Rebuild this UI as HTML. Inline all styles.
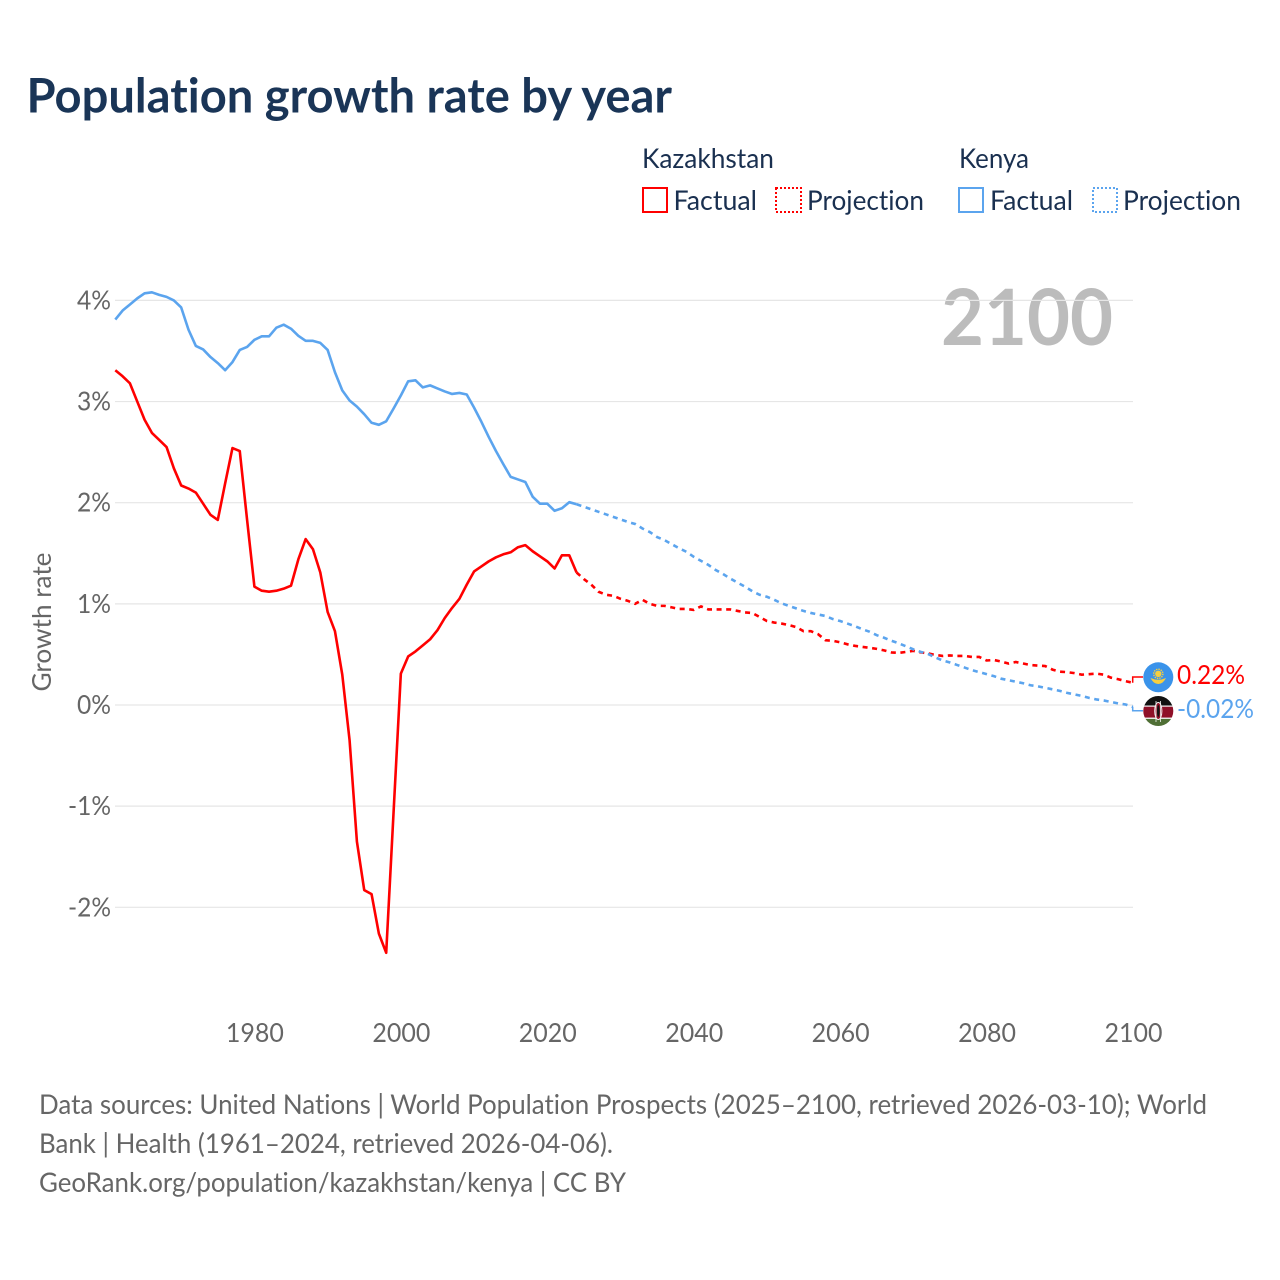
<!DOCTYPE html>
<html lang="en">
<head>
<meta charset="utf-8">
<title>Population growth rate by year</title>
<style>
html,body{margin:0;padding:0;background:#fff;width:1280px;height:1280px;overflow:hidden}
svg{display:block}
text{font-family:"Lato","Carlito","Liberation Sans",sans-serif;font-variant-ligatures:none}
</style>
</head>
<body>
<svg id="chart" xmlns="http://www.w3.org/2000/svg" width="1280" height="1280" viewBox="0 0 1280 1280">
<rect width="1280" height="1280" fill="#fff"/>
<text x="26.5" y="112.5" font-size="48" font-weight="700" fill="#1a3557" textLength="645.5" lengthAdjust="spacingAndGlyphs">Population growth rate by year</text>

<g font-size="27" fill="#1a3050">
<text x="642" y="168" textLength="132" lengthAdjust="spacingAndGlyphs">Kazakhstan</text>
<text x="959" y="168" textLength="70" lengthAdjust="spacingAndGlyphs">Kenya</text>
<rect x="643" y="188" width="24" height="24" fill="none" stroke="#ff0000" stroke-width="2"/>
<text x="673.5" y="210" textLength="83.5" lengthAdjust="spacingAndGlyphs">Factual</text>
<rect x="776" y="188" width="25" height="24" fill="none" stroke="#ff0000" stroke-width="2" stroke-dasharray="2 2"/>
<text x="807" y="210" textLength="117" lengthAdjust="spacingAndGlyphs">Projection</text>
<rect x="959" y="188" width="24" height="24" fill="none" stroke="#5ba4ee" stroke-width="2"/>
<text x="990" y="210" textLength="83" lengthAdjust="spacingAndGlyphs">Factual</text>
<rect x="1093" y="188" width="24" height="24" fill="none" stroke="#5ba4ee" stroke-width="2" stroke-dasharray="2 2"/>
<text x="1123" y="210" textLength="118" lengthAdjust="spacingAndGlyphs">Projection</text>
</g>

<text x="941" y="345" font-size="78" font-weight="700" fill="#bcbcbc" textLength="172" lengthAdjust="spacingAndGlyphs">2100</text>
<text transform="translate(51,622) rotate(-90)" text-anchor="middle" font-size="26" fill="#666" textLength="139" lengthAdjust="spacingAndGlyphs">Growth rate</text>

<g id="grid"></g>
<g id="yticks"></g>
<g id="xticks"></g>
<g id="series"></g>

<defs>
<clipPath id="kz-clip"><circle cx="1158.3" cy="677.3" r="15"/></clipPath>
<clipPath id="ke-clip"><circle cx="1158.3" cy="711" r="15"/></clipPath>
</defs>
<g clip-path="url(#kz-clip)">
<rect x="1143" y="662" width="31" height="31" fill="#3a93ea"/>
<circle cx="1158.3" cy="673.8" r="3.2" fill="#f6cf3f"/>
<circle cx="1158.3" cy="673.8" r="4.6" fill="none" stroke="#f6cf3f" stroke-width="1.4" stroke-dasharray="1.4 1"/>
<path d="M1150.5 678 Q1158.3 681.5 1166 678 Q1163 684 1158.3 684 Q1153.5 684 1150.5 678Z" fill="#f6cf3f"/>
</g>
<g clip-path="url(#ke-clip)">
<rect x="1143" y="696" width="31" height="9.5" fill="#111"/>
<rect x="1143" y="705.5" width="31" height="1.2" fill="#f4f4f4"/>
<rect x="1143" y="706.7" width="31" height="11" fill="#8f1028"/>
<rect x="1143" y="717.7" width="31" height="1.2" fill="#f4f4f4"/>
<rect x="1143" y="718.9" width="31" height="8" fill="#4f6f35"/>
<ellipse cx="1158.3" cy="711" rx="3.6" ry="8.5" fill="#8f1028" stroke="#f4f4f4" stroke-width="1"/>
<ellipse cx="1158.3" cy="711" rx="1.3" ry="6" fill="#111"/>
<line x1="1156" y1="701" x2="1156" y2="722" stroke="#f4f4f4" stroke-width="0.8"/>
<line x1="1160.6" y1="701" x2="1160.6" y2="722" stroke="#f4f4f4" stroke-width="0.8"/>
</g>

<g font-size="27" fill="#666">
<text x="39" y="1114" textLength="1168" lengthAdjust="spacingAndGlyphs">Data sources: United Nations | World Population Prospects (2025–2100, retrieved 2026-03-10); World</text>
<text x="39" y="1153" textLength="574" lengthAdjust="spacingAndGlyphs">Bank | Health (1961–2024, retrieved 2026-04-06).</text>
<text x="39" y="1192" textLength="587" lengthAdjust="spacingAndGlyphs">GeoRank.org/population/kazakhstan/kenya | CC BY</text>
</g>
</svg>

<script>
var xTickYears = [1980, 2000, 2020, 2040, 2060, 2080, 2100];
var yTickValues = [4, 3, 2, 1, 0, -1, -2];
var yTickLabels = ["4%", "3%", "2%", "1%", "0%", "-1%", "-2%"];
var factualStartYear = 1961;
var projectionStartYear = 2024;

var kazakhstanFactual = [
  3.31, 3.25, 3.18, 3.00, 2.82, 2.69, 2.62, 2.55, 2.34, 2.17,
  2.14, 2.10, 1.99, 1.88, 1.83, 2.19, 2.54, 2.51, 1.83, 1.17,
  1.13, 1.12, 1.13, 1.15, 1.18, 1.44, 1.64, 1.54, 1.31, 0.92,
  0.73, 0.30, -0.35, -1.35, -1.83, -1.87, -2.26, -2.45, -1.07, 0.31,
  0.48, 0.53, 0.59, 0.65, 0.74, 0.86, 0.96, 1.05, 1.19, 1.32,
  1.37, 1.42, 1.46, 1.49, 1.51, 1.56, 1.58, 1.52, 1.47, 1.42,
  1.35, 1.48, 1.48, 1.31
];
var kazakhstanProjection = [
  1.31, 1.245, 1.19, 1.12, 1.09, 1.08, 1.05, 1.03, 1.00, 1.04,
  1.00, 0.98, 0.98, 0.965, 0.95, 0.95, 0.94, 0.975, 0.945, 0.945,
  0.945, 0.945, 0.93, 0.915, 0.91, 0.87, 0.83, 0.815, 0.805, 0.79,
  0.77, 0.73, 0.73, 0.70, 0.64, 0.635, 0.62, 0.60, 0.585, 0.575,
  0.565, 0.555, 0.54, 0.52, 0.515, 0.525, 0.535, 0.52, 0.51, 0.495,
  0.485, 0.49, 0.485, 0.485, 0.475, 0.475, 0.44, 0.445, 0.43, 0.41,
  0.425, 0.41, 0.395, 0.39, 0.385, 0.35, 0.33, 0.325, 0.315, 0.30,
  0.305, 0.31, 0.30, 0.27, 0.255, 0.235, 0.22
];
var kenyaFactual = [
  3.81, 3.90, 3.96, 4.02, 4.07, 4.08, 4.055, 4.035, 4.00, 3.93,
  3.71, 3.55, 3.515, 3.44, 3.38, 3.31, 3.39, 3.51, 3.54, 3.61,
  3.645, 3.645, 3.73, 3.76, 3.72, 3.65, 3.60, 3.60, 3.58, 3.51,
  3.29, 3.11, 3.01, 2.95, 2.875, 2.79, 2.77, 2.805, 2.93, 3.06,
  3.20, 3.21, 3.14, 3.16, 3.13, 3.10, 3.075, 3.085, 3.07, 2.94,
  2.80, 2.65, 2.51, 2.38, 2.255, 2.23, 2.205, 2.06, 1.99, 1.99,
  1.92, 1.945, 2.005, 1.985
];
var kenyaProjection = [
  1.985, 1.96, 1.935, 1.91, 1.885, 1.86, 1.835, 1.81, 1.79, 1.745,
  1.71, 1.66, 1.63, 1.59, 1.55, 1.515, 1.465, 1.425, 1.385, 1.335,
  1.295, 1.25, 1.21, 1.17, 1.125, 1.09, 1.07, 1.04, 1.005, 0.98,
  0.955, 0.93, 0.91, 0.895, 0.88, 0.85, 0.83, 0.805, 0.78, 0.75,
  0.725, 0.69, 0.665, 0.635, 0.61, 0.58, 0.55, 0.525, 0.505, 0.47,
  0.44, 0.42, 0.395, 0.37, 0.345, 0.325, 0.305, 0.285, 0.26, 0.245,
  0.23, 0.215, 0.195, 0.185, 0.17, 0.155, 0.14, 0.12, 0.105, 0.09,
  0.07, 0.055, 0.045, 0.03, 0.015, 0.005, -0.02
];

var NS = "http://www.w3.org/2000/svg";
var KZ_COLOR = "#ff0000";
var KE_COLOR = "#5ba4ee";
var GREY = "#666";

function xScale(year) { return 115.3 + (year - 1961) * (1133 - 115.3) / (2100 - 1961); }
function yScale(v) { return 705 - v * 101.15; }

function make(parent, tag, attrs, txt) {
  var el = document.createElementNS(NS, tag);
  for (var k in attrs) el.setAttribute(k, attrs[k]);
  if (txt !== undefined) el.textContent = txt;
  parent.appendChild(el);
  return el;
}
function linePoints(values, startYear) {
  return values.map(function (v, i) {
    return xScale(startYear + i).toFixed(2) + "," + yScale(v).toFixed(2);
  }).join(" ");
}

var gridG = document.getElementById("grid");
var yG = document.getElementById("yticks");
var xG = document.getElementById("xticks");
var seriesG = document.getElementById("series");

yTickValues.forEach(function (v, i) {
  var gy = yScale(v);
  var gl = make(gridG, "line", { x1: 115, x2: 1133, y1: gy, y2: gy, stroke: "#e6e6e6", "stroke-width": 1.2 });
  
  
  var w = yTickLabels[i].length > 2 ? 43 : 34;
  var t = make(yG, "text", { x: 111 - w, y: yScale(v) + 9, "font-size": 26, fill: GREY, textLength: w, lengthAdjust: "spacingAndGlyphs" }, yTickLabels[i]);
  
  
});

xTickYears.forEach(function (yr) {
  var t = make(xG, "text", { x: xScale(yr) + 0.5, y: 1042, "text-anchor": "middle", "font-size": 26, fill: GREY, textLength: 58, lengthAdjust: "spacingAndGlyphs" }, String(yr));
  
  
});

var kzProj = make(seriesG, "polyline", { points: linePoints(kazakhstanProjection, projectionStartYear), fill: "none", stroke: KZ_COLOR, "stroke-width": 2.6, "stroke-dasharray": "5 4.6" });



var keProj = make(seriesG, "polyline", { points: linePoints(kenyaProjection, projectionStartYear), fill: "none", stroke: KE_COLOR, "stroke-width": 2.6, "stroke-dasharray": "5 4.6" });



var kzFact = make(seriesG, "polyline", { points: linePoints(kazakhstanFactual, factualStartYear), fill: "none", stroke: KZ_COLOR, "stroke-width": 2.6, "stroke-linejoin": "round" });



var keFact = make(seriesG, "polyline", { points: linePoints(kenyaFactual, factualStartYear), fill: "none", stroke: KE_COLOR, "stroke-width": 2.6, "stroke-linejoin": "round" });



var kzLast = kazakhstanProjection[kazakhstanProjection.length - 1];
var keLast = kenyaProjection[kenyaProjection.length - 1];

var kzConn = make(seriesG, "polyline", { points: "1132.7," + yScale(kzLast).toFixed(2) + " 1132.7,677 1143,677", fill: "none", stroke: KZ_COLOR, "stroke-width": 1.5 });



var keConn = make(seriesG, "polyline", { points: "1132.7," + yScale(keLast).toFixed(2) + " 1132.7,710.7 1143,710.7", fill: "none", stroke: KE_COLOR, "stroke-width": 1.5 });



var kzLabel = make(seriesG, "text", { x: 1177, y: 684, "font-size": 26, fill: KZ_COLOR, textLength: 68, lengthAdjust: "spacingAndGlyphs" }, kzLast.toFixed(2) + "%");



var keLabel = make(seriesG, "text", { x: 1177, y: 718, "font-size": 26, fill: KE_COLOR, textLength: 77, lengthAdjust: "spacingAndGlyphs" }, keLast.toFixed(2) + "%");


</script>
</body>
</html>
